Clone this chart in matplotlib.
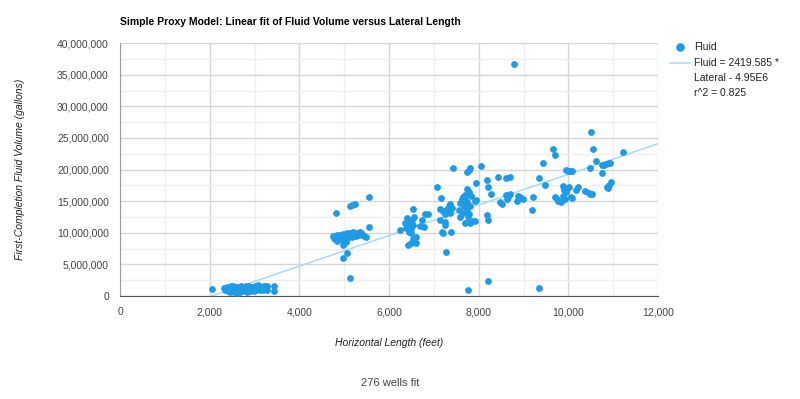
from matplotlib import pyplot as plt
from matplotlib.lines import Line2D
import numpy as np

# Lateral length (feet) and first-completion fluid volume (millions of gallons),
# read off the reference picture, grouped by cluster.
low_lateral = [
    2045, 2330, 2350, 2380, 2400, 2410, 2430, 2450, 2460, 2480, 2500, 2510,
    2530, 2550, 2560, 2580, 2600, 2610, 2630, 2650, 2660, 2680, 2700, 2710,
    2730, 2750, 2760, 2780, 2800, 2810, 2830, 2850, 2870, 2880, 2900, 2910,
    2930, 2950, 2960, 2980, 3000, 3010, 3030, 3050, 3070, 3080, 3100, 3120,
    3140, 3150, 3170, 3190, 3210, 3230, 3250, 3270, 3280, 3430, 3430, 2520,
    2690, 2470, 2620, 2840, 2570, 2740]
low_fluid = [
    1.06, 1.25, 0.95, 1.40, 0.80, 1.10, 1.30, 0.60, 1.00, 1.20, 1.45, 0.85,
    1.10, 0.70, 1.30, 0.95, 1.20, 1.50, 0.80, 1.05, 1.35, 0.65, 1.15, 0.90,
    1.40, 1.00, 1.25, 0.75, 1.55, 1.10, 0.90, 1.30, 1.65, 1.00, 1.20, 0.80,
    1.45, 1.05, 1.30, 0.85, 1.60, 1.15, 0.95, 1.35, 1.70, 1.05, 1.25, 0.90,
    1.50, 1.10, 1.30, 0.95, 1.60, 1.20, 1.40, 1.00, 1.55, 1.60, 0.85, 1.60,
    1.60, 1.55, 0.55, 0.60, 1.45, 1.50]

mid_lateral = [
    5550, 5170, 5240, 5130, 4820, 5550, 4750, 4780, 4800, 4830, 4860, 4880,
    4900, 4920, 4950, 4980, 5000, 5030, 5060, 5080, 5100, 5130, 5150, 5180,
    5200, 5230, 5260, 5290, 5320, 5350, 5380, 5410, 5450, 5480, 4850, 5050,
    4970, 5060, 4970, 5130]
mid_fluid = [
    15.6, 14.4, 14.5, 14.2, 13.1, 10.9, 9.5, 9.2, 9.0, 9.6, 9.3, 9.1,
    9.7, 9.4, 8.9, 9.8, 9.5, 9.2, 9.9, 9.6, 9.3, 10.0, 9.7, 9.4,
    10.1, 9.8, 9.5, 10.0, 9.7, 10.2, 9.9, 9.6, 9.5, 9.3, 8.7, 8.5,
    8.1, 6.8, 6.0, 2.8]

long_lateral = [
    6240, 6540, 6400, 6420, 6450, 6480, 6520, 6480, 6530, 6560, 6500, 6530,
    6480, 6420, 6600, 6600, 6380, 6440, 6360, 6740, 6770, 6800, 6880, 6700,
    7060, 7170, 7140, 7210, 7270, 7340, 7370, 7320, 7370, 7250, 7400, 7140,
    7260, 7250, 7180, 7200, 7380, 7270, 7420, 7740, 7780, 7800, 7740, 7780,
    7700, 7740, 7670, 7800, 7740, 7760, 7740, 7800, 7850, 7920, 7700, 7790,
    7620, 7650, 7580, 7560, 7640, 7700, 7660, 7820, 7580, 7940, 7950, 7920,
    8050, 8180, 8200, 8270, 8180, 8200, 8430, 8470, 8520, 8620, 8660, 8700,
    8640, 8620, 8710, 8850, 8880, 8920, 8980, 9180, 9220, 9350, 9430, 9490,
    9650, 9700, 9700, 9740, 9780, 9880, 9900, 9950, 9890, 9930, 9980, 10050,
    9840, 10020, 10090, 9940, 9990, 10040, 10080, 10170, 10220, 10370, 10450,
    10480, 10520, 10480, 10500, 10560, 10620, 10760, 10800, 10850, 10900,
    10940, 10740, 10860, 10900, 10950, 10880, 11210, 7760, 8210, 9350, 8780]
long_fluid = [
    10.4, 13.7, 12.3, 11.7, 11.2, 11.5, 12.0, 10.6, 11.3, 12.5, 9.9, 9.1,
    8.4, 8.0, 9.3, 8.4, 10.8, 10.1, 11.5, 12.0, 10.9, 13.0, 13.0, 11.0,
    17.3, 15.5, 13.8, 13.5, 13.6, 14.3, 14.6, 13.8, 13.1, 12.9, 14.0, 12.0,
    11.7, 11.3, 10.1, 10.0, 10.1, 7.0, 20.2, 19.6, 20.0, 20.3, 17.0, 16.4,
    15.3, 14.8, 14.3, 14.2, 13.5, 12.7, 11.7, 11.6, 11.8, 11.9, 11.5, 12.9,
    15.3, 15.6, 14.7, 13.6, 13.2, 16.0, 15.0, 15.8, 12.5, 17.9, 15.2, 15.0,
    20.6, 18.3, 17.3, 16.2, 12.8, 12.1, 18.9, 14.8, 14.6, 16.0, 15.7, 16.1,
    15.4, 18.7, 18.8, 15.0, 15.9, 15.6, 15.4, 13.6, 15.6, 18.7, 21.1, 17.5,
    23.2, 22.3, 15.6, 15.3, 15.0, 17.4, 16.8, 16.4, 15.9, 15.4, 17.0, 15.6,
    14.8, 17.2, 15.5, 19.9, 19.7, 19.8, 19.7, 16.8, 17.3, 16.6, 16.3,
    16.2, 16.2, 20.3, 26.0, 23.3, 21.4, 20.7, 20.8, 20.9, 21.0,
    21.1, 19.5, 17.3, 17.6, 18.0, 17.1, 22.7, 0.95, 2.4, 1.3, 36.7]

# Trendline reported by the chart.
slope = 2419.585
intercept = -4.95e6
r_squared = 0.825
wells = 276

lateral = np.array(low_lateral + mid_lateral + long_lateral)
fluid = np.array(low_fluid + mid_fluid + long_fluid) * 1e6

point_color = '#1f9be6'
line_color = '#aad9f5'
text_color = '#444444'

plt.rcParams['font.family'] = ['Liberation Sans', 'DejaVu Sans']

fig = plt.figure(figsize = (8, 3.99), dpi = 100)
ax = fig.add_axes([0.15, 0.258, 0.6725, 0.634])

# Trendline from the smallest lateral to the right edge of the axis.
line_x = np.array([lateral.min(), 12000])
ax.plot(line_x, slope * line_x + intercept, color = line_color,
    linewidth = 1.1, zorder = 2)

ax.scatter(lateral, fluid, s = 24, color = point_color, linewidths = 0,
    zorder = 3)

ax.set_xlim(0, 12000)
ax.set_ylim(0, 40e6)
ax.set_xticks(np.arange(0, 12001, 2000))
ax.set_yticks(np.arange(0, 40e6 + 1, 5e6))
ax.set_xticks(np.arange(1000, 12000, 2000), minor = True)
ax.set_yticks(np.arange(2.5e6, 40e6, 5e6), minor = True)
ax.xaxis.set_major_formatter(plt.FuncFormatter(lambda v, p: f'{v:,.0f}'))
ax.yaxis.set_major_formatter(plt.FuncFormatter(lambda v, p: f'{v:,.0f}'))
ax.grid(which = 'major', color = '#d6d6d6', linewidth = 1, zorder = 0)
ax.grid(which = 'minor', color = '#efefef', linewidth = 1, zorder = 0)
ax.set_axisbelow(True)
ax.tick_params(which = 'both', length = 0, colors = text_color,
    labelsize = 7.5, pad = 8)

for side in ['top', 'right']:
    ax.spines[side].set_visible(False)
ax.spines['left'].set_color('#9e9e9e')
ax.spines['bottom'].set_color('#555555')

ax.set_xlabel('Horizontal Length (feet)', fontstyle = 'italic',
    fontsize = 7.5, color = '#222222', labelpad = 15)
ax.set_ylabel('First-Completion Fluid Volume (gallons)', fontstyle = 'italic',
    fontsize = 7.5, color = '#222222', labelpad = 23)

fig.text(0.15, 0.945, 'Simple Proxy Model: Linear fit of Fluid Volume versus '
    'Lateral Length', fontsize = 7.5, fontweight = 'bold', color = '#000000',
    ha = 'left', va = 'center')
fig.text(0.4875, 0.04, f'{wells} wells fit', fontsize = 8, color = text_color,
    ha = 'center', va = 'center')

# Legend at the right side, laid out like the original chart.
legend_font = dict(fontsize = 7.5, color = '#222222', ha = 'left',
    va = 'center')
fig.add_artist(Line2D([0.85], [0.882], marker = 'o', linestyle = 'none',
    color = point_color, markersize = 5.2, transform = fig.transFigure))
fig.text(0.8675, 0.882, 'Fluid', **legend_font)
fig.add_artist(Line2D([0.8375, 0.8625], [0.842, 0.842], color = line_color,
    linewidth = 1.1, transform = fig.transFigure))
legend_lines = [f'Fluid = {slope} *', 'Lateral - 4.95E6',
    f'r^2 = {r_squared}']
for i, text in enumerate(legend_lines):
    fig.text(0.8675, 0.842 - i * 0.037, text, **legend_font)

plt.savefig('out.png', dpi = 100)
